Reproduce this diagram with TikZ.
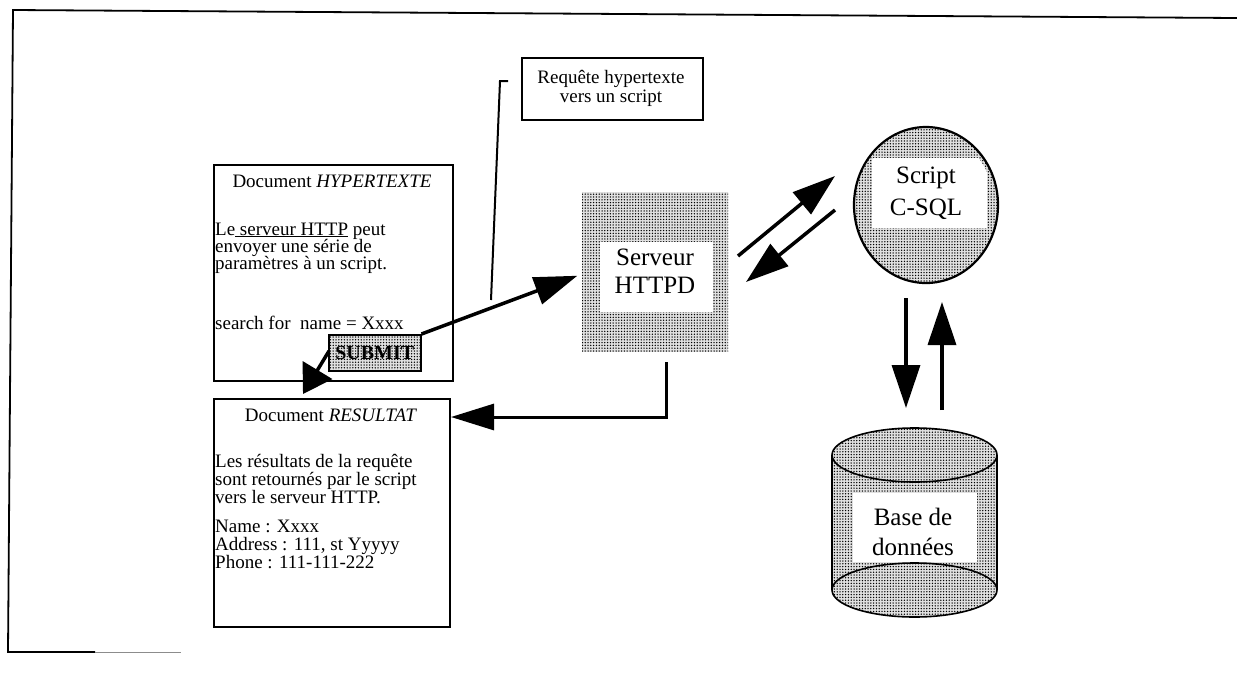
\documentclass[tikz,border=0pt]{standalone}
\usepackage{fontspec}
\setmainfont{Liberation Serif}
\usetikzlibrary{arrows.meta,shapes.geometric,patterns.meta}
\begin{document}
\begin{tikzpicture}[x=1pt,y=-1pt,
  frame/.style={line width=1.8pt},
  docbox/.style={draw, line width=2pt, fill=white, inner sep=0pt, anchor=north west},
  txt/.style={inner sep=0pt, font=\fontsize{19}{19}\selectfont},
  big/.style={inner sep=0pt, font=\fontsize{25}{30}\selectfont},
  halftone/.style={preaction={fill=black!12}, pattern={Dots[distance=2.8pt,radius=0.75pt]}, pattern color=black},
  bigarrow/.style={line width=3.5pt, -{Triangle[length=43pt,width=28pt]}},
]
\useasboundingbox (0,0) rectangle (1237,673);

% outer frame (only partly visible)
\draw[frame] (1237,18) -- (13,10) -- (8,652) -- (95,652);
\draw[line width=1pt, black!45] (95,652) -- (181,652);

% ---- Document HYPERTEXTE ----
\node[docbox, minimum width=239pt, minimum height=216pt] (hyp) at (213,164) {};
\node[txt, anchor=base] (hypT) at (332,187) {Document \textit{HYPERTEXTE}};
\node[txt, anchor=base west] (hyp1) at (215,235) {Le\underline{\ serveur HTTP}\ peut};
\node[txt, anchor=base west] (hyp2) at (215,252) {envoyer une série de};
\node[txt, anchor=base west] (hyp3) at (215,269) {paramètres à un script.};
\node[txt, anchor=base west] (hyp4) at (215,329) {search for\ \ name = Xxxx};
\node[draw, line width=1.5pt, halftone, minimum width=92pt, minimum height=36pt,
      inner sep=0pt, anchor=north west] (sub) at (328,334) {};
\node[inner sep=0pt, font=\fontsize{20}{20}\selectfont\bfseries] (subT) at (sub.center) {SUBMIT};

% ---- Document RESULTAT ----
\node[docbox, minimum width=236pt, minimum height=228pt] (res) at (213,398) {};
\node[txt, anchor=base] (resT) at (331,421) {Document \textit{RESULTAT}};
\node[txt, anchor=base west] (res1) at (215,467) {Les résultats de la requête};
\node[txt, anchor=base west] (res2) at (215,485) {sont retournés par le script};
\node[txt, anchor=base west] (res3) at (215,503) {vers le serveur HTTP.};
\node[txt, anchor=base west] (res4) at (215,532) {Name : Xxxx};
\node[txt, anchor=base west] (res5) at (215,550) {Address : 111, st Yyyyy};
\node[txt, anchor=base west] (res6) at (215,568) {Phone : 111-111-222};

% ---- callout ----
\node[docbox, minimum width=181pt, minimum height=62pt] (req) at (521,57) {};
\node[txt, anchor=base] (req1) at (611,83) {Requête hypertexte};
\node[txt, anchor=base] (req2) at (611,102) {vers un script};
\coordinate (calloutEnd) at (491,300);
\coordinate (calloutTop) at (508,81);
\draw[line width=2pt] (calloutEnd) -- (500,81) -- (calloutTop);

% ---- Serveur HTTPD ----
\node[halftone, minimum width=146pt, minimum height=160pt, inner sep=0pt, anchor=north west] (srv) at (582,192) {};
\fill[white] (600,242) rectangle (713,312);
\node[big, anchor=base] (srv1) at (655,265) {Serveur};
\node[big, anchor=base] (srv2) at (655,293) {HTTPD};

% ---- Script C-SQL ----
\node[ellipse, draw, line width=2.2pt, halftone, minimum width=144pt, minimum height=156pt, inner sep=0pt] (scr) at (926,205) {};
\begin{scope}
  \clip (926,205) ellipse [x radius=68, y radius=74];
  \fill[white] (872,158) rectangle (987,228);
\end{scope}
\node[big, anchor=base] (scr1) at (926,183) {Script};
\node[big, anchor=base] (scr2) at (926,215) {C-SQL};

% ---- Base de donnees (cylinder) ----
\path[halftone] (832,455) -- (832,590) arc[start angle=180, end angle=0, x radius=82.5, y radius=27] -- (997,455) -- cycle;
\fill[white] (853,493) rectangle (977,562);
\draw[line width=1.6pt] (914.5,590) ellipse [x radius=82.5, y radius=27];
\draw[line width=1.6pt, halftone] (914.5,455) ellipse [x radius=82.5, y radius=27];
\draw[line width=1.6pt] (832,455) -- (832,590) (997,455) -- (997,590);
\node[big, anchor=base] (db1) at (913,525) {Base de};
\node[big, anchor=base] (db2) at (913,555) {données};

% ---- connectors ----
\draw[bigarrow, shorten >=5pt] (sub.north east) -- (srv.west |- 0,274);
\coordinate (subOut) at (329,351);
\coordinate (resIn) at (303,394);
\draw[line width=3.5pt, -{Triangle[length=28pt,width=34pt]}] (subOut) -- (resIn);

\coordinate (srvOut) at (666,362);
\draw[line width=3pt, -{Triangle[length=43pt,width=26pt]}] (srvOut) -- (666,417) -- (res.east |- 0,417);

\coordinate (toScrA) at (738,256);
\coordinate (toScrB) at (835,176);
\draw[bigarrow] (toScrA) -- (toScrB);
\coordinate (toSrvA) at (835,210);
\coordinate (toSrvB) at (746,282);
\draw[bigarrow] (toSrvA) -- (toSrvB);

\coordinate (downA) at (906,298);
\coordinate (downB) at (906,408);
\draw[bigarrow] (downA) -- (downB);
\coordinate (upA) at (942,410);
\coordinate (upB) at (942,302);
\draw[bigarrow] (upA) -- (upB);
\end{tikzpicture}
\end{document}
